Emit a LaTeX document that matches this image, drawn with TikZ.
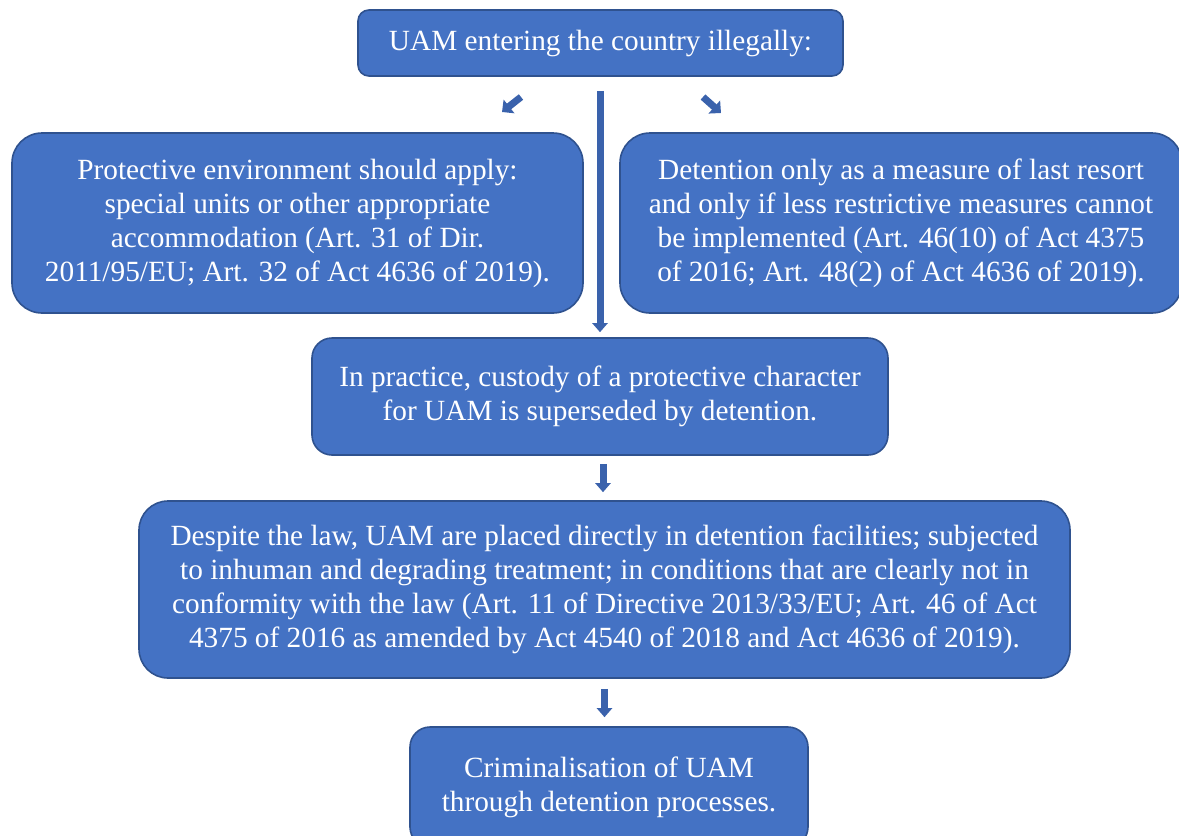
\documentclass[tikz,border=0pt]{standalone}
\usepackage{fontspec}
\setmainfont{Liberation Serif}
\usetikzlibrary{arrows.meta, positioning}
\definecolor{uamblue}{RGB}{68,114,196}
\definecolor{uamedge}{RGB}{47,82,143}
\definecolor{arrowblue}{RGB}{58,98,172}
\tikzset{
    stagebox/.style={
        rectangle,
        draw=uamedge,
        fill=uamblue,
        line width=1.6pt,
        text=white,
        align=center,
        inner sep=0pt,
        font=\fontsize{29.3}{34}\selectfont
    },
    downarrow/.style={
        -{Triangle[width=15pt, length=9pt]},
        line width=7pt,
        draw=arrowblue
    },
    tinyarrow/.style={
        -{Triangle[width=17pt, length=9pt]},
        line width=7pt,
        draw=arrowblue
    }
}
\begin{document}
\begin{tikzpicture}[x=1pt, y=-1pt]
    \useasboundingbox (0,0) rectangle (1179,836);
    \clip (0,0) rectangle (1179,836);
    % Entry point
    \node[stagebox, minimum width=485pt, minimum height=66pt, rounded corners=11pt]
        (entry) at (600.5,43) {UAM entering the country illegally:};
    % Legal framework
    \node[stagebox, minimum width=571pt, minimum height=180pt, rounded corners=30pt]
        (protect) at (297.5,223) {Protective environment should apply:\\
        special units or other appropriate\\
        accommodation (Art. 31 of Dir.\\
        2011/95/EU; Art. 32 of Act 4636 of 2019).};
    \node[stagebox, minimum width=562pt, minimum height=180pt, rounded corners=30pt]
        (detain) at (901,223) {Detention only as a measure of last resort\\
        and only if less restrictive measures cannot\\
        be implemented (Art. 46(10) of Act 4375\\
        of 2016; Art. 48(2) of Act 4636 of 2019).};
    % Practice
    \node[stagebox, minimum width=576pt, minimum height=117pt, rounded corners=20pt]
        (practice) at (600,396.5) {In practice, custody of a protective character\\
        for UAM is superseded by detention.};
    \node[stagebox, minimum width=931pt, minimum height=177pt, rounded corners=29pt]
        (despite) at (604.5,589.5) {Despite the law, UAM are placed directly in detention facilities; subjected\\
        to inhuman and degrading treatment; in conditions that are clearly not in\\
        conformity with the law (Art. 11 of Directive 2013/33/EU; Art. 46 of Act\\
        4375 of 2016 as amended by Act 4540 of 2018 and Act 4636 of 2019).};
    \node[stagebox, minimum width=398pt, minimum height=120pt, rounded corners=20pt]
        (crime) at (609,787) {Criminalisation of UAM\\
        through detention processes.};

    % Arrows
    \coordinate (swtail) at (521,97);
    \coordinate (swtip) at (502,112);
    \coordinate (setail) at (703,97);
    \coordinate (setip) at (721,113);
    \draw[tinyarrow] (swtail) -- (swtip);
    \draw[tinyarrow] (setail) -- (setip);
    \draw[downarrow, shorten <=14pt, shorten >=5pt] (entry.south -| practice.north) -- (practice.north);
    \draw[downarrow, shorten <=8pt, shorten >=8pt] ([xshift=3pt]practice.south) -- ([xshift=3pt]practice.south |- despite.north);
    \draw[downarrow, shorten <=10pt, shorten >=9pt] (despite.south) -- (despite.south |- crime.north);
\end{tikzpicture}
\end{document}
